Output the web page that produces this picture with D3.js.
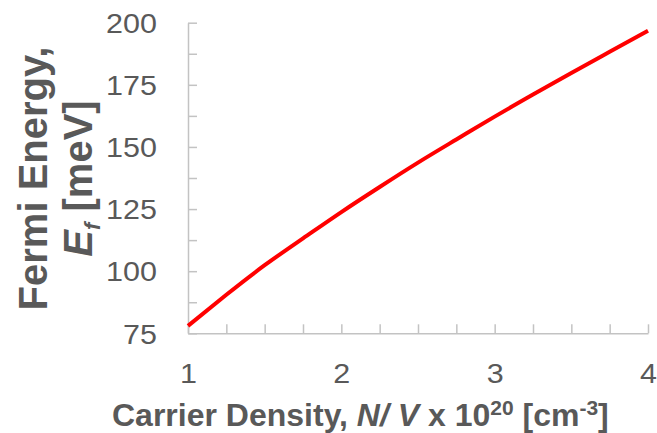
<!DOCTYPE html>
<html>
<head>
<meta charset="utf-8">
<script src="https://cdn.jsdelivr.net/npm/d3@7"></script>
<style>
  html, body { margin: 0; padding: 0; background: #fff; }
  svg { display: block; font-family: "Liberation Sans", Arial, Helvetica, sans-serif; }
</style>
</head>
<body>
<svg id="chart" width="657" height="433"></svg>
<script>
// Carrier density (x 10^20 cm^-3) and Fermi energy (meV)
const density = [1, 1.25, 1.5, 1.75, 2, 2.25, 2.5, 2.75, 3, 3.25, 3.5, 3.75, 4];
const fermiEnergy = [78, 90.5, 102.4, 113.2, 123.8, 133.9, 143.7, 153, 162.2, 171.1, 179.8, 188.3, 196.8];

// Axis ticks
const xMajorTicks = [1, 2, 3, 4];
const xMinorTicks = [1.25, 1.5, 1.75, 2.25, 2.5, 2.75, 3.25, 3.5, 3.75];
const yMajorTicks = [75, 100, 125, 150, 175, 200];
const yMinorTicks = [87.5, 112.5, 137.5, 162.5, 187.5];

const textColor = "#595959";
const axisColor = "#c3c3c3";

const svg = d3.select("#chart");
const plotLeft = 188, plotRight = 648, plotTop = 22.7, plotBottom = 333.3;

const x = d3.scaleLinear().domain([1, 4]).range([plotLeft, plotRight]);
const y = d3.scaleLinear().domain([75, 200]).range([plotBottom, plotTop]);

const allX = xMajorTicks.concat(xMinorTicks).sort(d3.ascending);
const allY = yMajorTicks.concat(yMinorTicks).sort(d3.ascending);

// X axis: ticks point into the plot
const xAxis = svg.append("g")
  .attr("transform", `translate(0,${plotBottom})`)
  .call(d3.axisBottom(x)
    .tickValues(allX)
    .tickSize(-9)
    .tickSizeOuter(0)
    .tickFormat(d => xMajorTicks.includes(d) ? d3.format("d")(d) : ""));

// Y axis: ticks point into the plot
const yAxis = svg.append("g")
  .attr("transform", `translate(${plotLeft},0)`)
  .call(d3.axisLeft(y)
    .tickValues(allY)
    .tickSize(-9)
    .tickSizeOuter(0)
    .tickFormat(d => yMajorTicks.includes(d) ? d3.format("d")(d) : ""));

[xAxis, yAxis].forEach(g => {
  g.select(".domain").attr("stroke", axisColor).attr("stroke-width", 1.5);
  g.selectAll(".tick line").attr("stroke", axisColor).attr("stroke-width", 1.5);
  g.selectAll(".tick text")
    .attr("fill", textColor)
    .style("font-size", "27px")
    .style("font-family", "'Liberation Sans', Arial, sans-serif");
});

xAxis.selectAll(".tick text")
  .attr("y", 0).attr("dy", 0)
  .attr("transform", "translate(0,49.2) scale(1.13,1)");

yAxis.selectAll(".tick text")
  .attr("x", 0)
  .attr("dy", "0.36em")
  .attr("transform", "translate(-31,0) scale(1.13,1)");

// Fermi energy curve
const line = d3.line()
  .x((d, i) => x(density[i]))
  .y(d => y(d))
  .curve(d3.curveNatural);

svg.append("path")
  .datum(fermiEnergy)
  .attr("d", line)
  .attr("fill", "none")
  .attr("stroke", "#ff0000")
  .attr("stroke-width", 4)
  .attr("stroke-linecap", "butt");

// X axis title
const xt = svg.append("text")
  .attr("x", 112)
  .attr("y", 426)
  .attr("fill", textColor)
  .style("font-size", "32px")
  .style("font-weight", "bold");
xt.append("tspan").text("Carrier Density, ");
xt.append("tspan").style("font-style", "italic").text("N/ V");
xt.append("tspan").text(" x 10");
xt.append("tspan").attr("dy", -11).style("font-size", "21px").text("20");
xt.append("tspan").attr("dy", 11).text(" [cm");
xt.append("tspan").attr("dy", -11).style("font-size", "21px").text("-3");
xt.append("tspan").attr("dy", 11).text("]");

// Y axis title (two lines, rotated)
svg.append("text")
  .attr("transform", "translate(46.5,178.5) rotate(-90)")
  .attr("text-anchor", "middle")
  .attr("fill", textColor)
  .style("font-size", "40px")
  .style("font-weight", "bold")
  .text("Fermi Energy,");

const yt2 = svg.append("text")
  .attr("transform", "translate(92,178.5) rotate(-90)")
  .attr("text-anchor", "middle")
  .attr("fill", textColor)
  .style("font-size", "40px")
  .style("font-weight", "bold");
yt2.append("tspan").style("font-style", "italic").text("E");
yt2.append("tspan").attr("dy", 8).style("font-style", "italic").style("font-size", "22px").text("f");
yt2.append("tspan").attr("dy", -8).text(" [meV]");
</script>
</body>
</html>
